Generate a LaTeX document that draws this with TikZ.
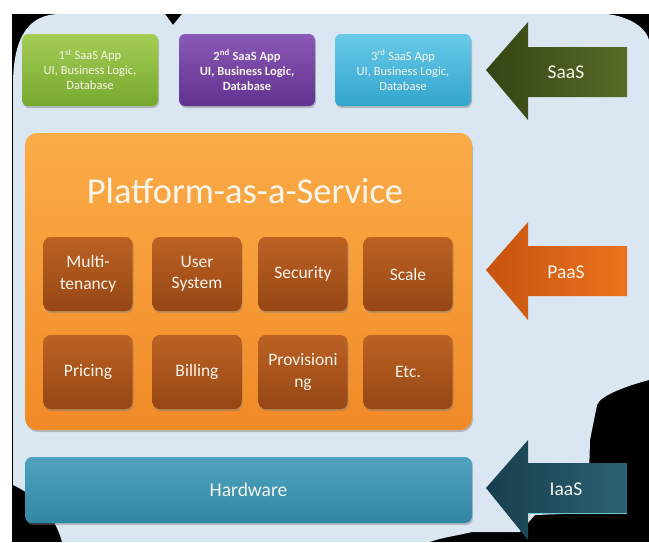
\documentclass[tikz,border=0pt]{standalone}
\usepackage{fontspec}
\setmainfont{Carlito}
\usetikzlibrary{shadows}
\definecolor{cloudc}{RGB}{218,231,242}
\definecolor{gtop}{RGB}{165,205,85}
\definecolor{gbot}{RGB}{118,168,45}
\definecolor{ptop}{RGB}{138,88,182}
\definecolor{pbot}{RGB}{98,50,145}
\definecolor{ctop}{RGB}{105,202,232}
\definecolor{cbot}{RGB}{50,165,205}
\definecolor{otop}{RGB}{251,172,72}
\definecolor{obot}{RGB}{240,138,38}
\definecolor{btop}{RGB}{188,98,36}
\definecolor{bbot}{RGB}{150,70,20}
\definecolor{htop}{RGB}{78,162,192}
\definecolor{hbot}{RGB}{50,135,165}
\definecolor{sl}{RGB}{52,68,20}
\definecolor{sr}{RGB}{88,108,40}
\definecolor{pl}{RGB}{198,82,14}
\definecolor{pr}{RGB}{236,116,30}
\definecolor{il}{RGB}{24,62,78}
\definecolor{ir}{RGB}{42,98,114}
\definecolor{txtw}{RGB}{245,245,235}
\tikzset{
  shadowed/.style={drop shadow={shadow xshift=1pt,shadow yshift=-2pt,opacity=.45}},
  appbox/.style={shadowed,rounded corners=6pt,minimum width=136pt,minimum height=72pt,
    align=center,text=txtw,font=\fontsize{12.5}{15}\selectfont,inner sep=2pt},
  tilebox/.style={shadowed,rounded corners=7pt,minimum width=89pt,minimum height=74pt,
    align=center,text=txtw,font=\fontsize{17.5}{21.5}\selectfont,top color=btop,bottom color=bbot,inner sep=1pt},
  arrowlabel/.style={text=txtw,font=\fontsize{19.5}{22}\selectfont},
}
\begin{document}
\begin{tikzpicture}[x=1pt,y=-1pt]
\useasboundingbox (0,0) rectangle (649,542);
\fill[white] (0,0) rectangle (649,542);
\fill[black] (12,14) rectangle (649,542);
% cloud background
\fill[cloudc] (13,85) .. controls (13,35) and (30,14) .. (60,14) -- (165,14) -- (173,25) -- (182,14) -- (607,14)
  .. controls (625,16) and (645,25) .. (649,40) -- (649,380)
  .. controls (630,385) and (600,395) .. (597,405) -- (590,440) -- (588,513) -- (535,515) -- (520,532) -- (472,532)
  .. controls (455,536) and (440,538) .. (430,542) -- (62,542)
  .. controls (55,515) and (35,495) .. (13,485) -- cycle;

% SaaS apps
\node[appbox,top color=gtop,bottom color=gbot] (app1) at (90,70)
  {1\textsuperscript{st} SaaS App\\UI, Business Logic,\\Database};
\node[appbox,top color=ptop,bottom color=pbot,font=\fontsize{12.5}{15}\selectfont\bfseries] (app2) at (247,70)
  {2\textsuperscript{nd} SaaS App\\UI, Business Logic,\\Database};
\node[appbox,top color=ctop,bottom color=cbot] (app3) at (403,70)
  {3\textsuperscript{rd} SaaS App\\UI, Business Logic,\\Database};

% PaaS block
\node[shadowed,rounded corners=12pt,minimum width=447pt,minimum height=297pt,top color=otop,bottom color=obot] (paas) at (248.5,281.5) {};
\node[text=txtw,font=\fontsize{36.5}{38}\selectfont] (title) at (245,191) {Platform-as-a-Service};
\node[tilebox] (t1) at (88,274) {Multi-\\tenancy};
\node[tilebox] (t2) at (197,274) {User\\System};
\node[tilebox] (t3) at (303,274) {Security};
\node[tilebox] (t4) at (408,274) {Scale};
\node[tilebox] (t5) at (88,372) {Pricing};
\node[tilebox] (t6) at (197,372) {Billing};
\node[tilebox] (t7) at (303,372) {Provisioni\\ng};
\node[tilebox] (t8) at (408,372) {Etc.};

% Hardware
\node[shadowed,rounded corners=7pt,minimum width=447pt,minimum height=66pt,top color=htop,bottom color=hbot,
  text=txtw,font=\fontsize{19.5}{22}\selectfont] (hw) at (248.5,490) {Hardware};

% arrows
\shade[left color=sl,right color=sr] (486,70) -- (528,22) -- (528,47) -- (627,47) -- (627,97) -- (528,97) -- (528,120) -- cycle;
\node[arrowlabel] (saas) at (566,72) {SaaS};
\shade[left color=pl,right color=pr] (486,270) -- (528,222) -- (528,246) -- (627,246) -- (627,296) -- (528,296) -- (528,320) -- cycle;
\node[arrowlabel] (paasl) at (566,272) {PaaS};
\shade[left color=il,right color=ir] (486,488) -- (528,440) -- (528,463) -- (627,463) -- (627,513) -- (528,513) -- (528,540) -- cycle;
\draw[color={rgb,255:red,120;green,200;blue,210},line width=0.8pt] (528,513) -- (627,513);
\node[arrowlabel] (iaas) at (566,489) {IaaS};
\end{tikzpicture}
\end{document}
